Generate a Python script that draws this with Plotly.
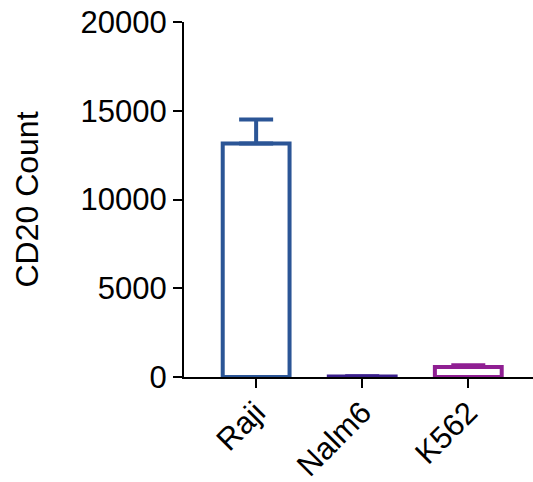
import plotly.graph_objects as go

categories = ["Raji", "Nalm6", "K562"]
values = [13150, 30, 570]
errors_up = [1350, 10, 90]
colors = ["#2b5596", "#3a1f8c", "#8f1f92"]
y_ticks = [0, 5000, 10000, 15000, 20000]

fig = go.Figure()
for cat, v, e, c in zip(categories, values, errors_up, colors):
    fig.add_trace(go.Bar(
        x=[cat], y=[v],
        width=0.63,
        marker=dict(color="white", line=dict(color=c, width=4)),
        error_y=dict(type="data", symmetric=False, array=[e], arrayminus=[0],
                     color=c, thickness=4, width=17),
        showlegend=False,
    ))

font = dict(family="Liberation Sans, Arial, sans-serif", size=31, color="black")
title_font = dict(family="Liberation Sans, Arial, sans-serif", size=32, color="black")
fig.update_layout(
    width=533, height=482,
    margin=dict(l=184, r=0, t=22, b=105),
    plot_bgcolor="white", paper_bgcolor="white",
    font=font,
    xaxis=dict(range=[-0.68, 2.61], showline=True, linecolor="black", linewidth=2,
               ticks="outside", ticklen=9, tickwidth=2, tickcolor="black",
               tickangle=-45, showgrid=False, zeroline=False, tickfont=font,
               ticklabelstandoff=-6, automargin=False),
    yaxis=dict(range=[0, 20000], tickvals=y_ticks, ticktext=[str(t) for t in y_ticks],
               showline=True, linecolor="black", linewidth=2,
               ticks="outside", ticklen=9, tickwidth=2, tickcolor="black",
               showgrid=False, zeroline=False, tickfont=font, automargin=False,
               title=dict(text="CD20 Count", font=title_font, standoff=32)),
)
fig.write_html("out.html")
